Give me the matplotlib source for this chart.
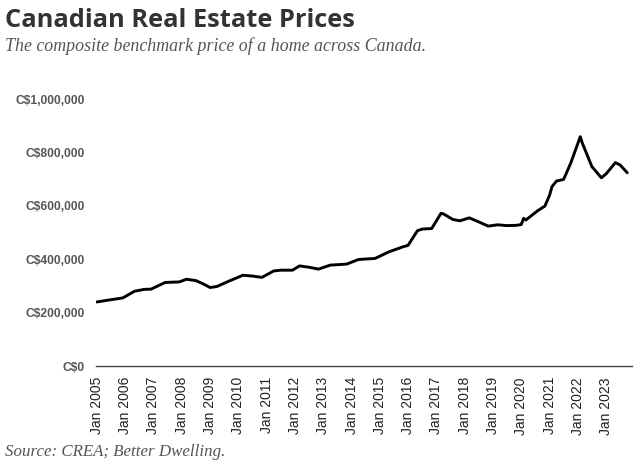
import pandas as pd
import matplotlib
matplotlib.use("Agg")
import matplotlib.pyplot as plt
import matplotlib.dates as mdates
from matplotlib.ticker import FuncFormatter

# benchmark price (C$)
dates = ["2005-01", "2005-06", "2005-12", "2006-05", "2006-09", "2006-12",
         "2007-06", "2007-12", "2008-03", "2008-07", "2008-10", "2009-01",
         "2009-04", "2009-09", "2010-03", "2010-07", "2010-11", "2011-04",
         "2011-07", "2011-12", "2012-03", "2012-07", "2012-11", "2013-04",
         "2013-08", "2013-11", "2014-04", "2014-11", "2015-05", "2015-11",
         "2016-01", "2016-05", "2016-07", "2016-11", "2017-03", "2017-04",
         "2017-08", "2017-11", "2018-03", "2018-07", "2018-11", "2019-03",
         "2019-07", "2019-11", "2020-01", "2020-02", "2020-03", "2020-08",
         "2020-11", "2021-01", "2021-02", "2021-04", "2021-07", "2021-10",
         "2022-02", "2022-03", "2022-07", "2022-11", "2023-01", "2023-05",
         "2023-07", "2023-10"]
prices = [240000, 247000, 255000, 280000, 287000, 288000,
          313000, 315000, 325000, 320000, 308000, 294000,
          298000, 318000, 340000, 337000, 332000, 356000,
          359000, 359000, 375000, 370000, 363000, 378000,
          380000, 382000, 399000, 403000, 428000, 447000,
          452000, 507000, 513000, 515000, 572000, 570000,
          549000, 544000, 555000, 540000, 524000, 529000,
          526000, 527000, 530000, 553000, 547000, 582000,
          599000, 640000, 672000, 693000, 699000, 760000,
          859000, 834000, 747000, 705000, 720000, 762000,
          753000, 724000]
tick_years = list(range(2005, 2024))

title = "Canadian Real Estate Prices"
subtitle = "The composite benchmark price of a home across Canada."
source = "Source: CREA; Better Dwelling."

x = pd.to_datetime(dates)

fig = plt.figure(figsize=(6.4, 4.63), dpi=100)
ax = fig.add_axes([0.15, 0.2095, 0.8375, 0.5765])

ax.plot(x, prices, color="black", lw=2.1, solid_joinstyle="round", solid_capstyle="round")

ax.set_ylim(0, 1000000)
ax.set_xlim(pd.Timestamp("2004-12-20"), pd.Timestamp("2023-12-01"))
ax.set_yticks(range(0, 1000001, 200000))
ax.yaxis.set_major_formatter(FuncFormatter(lambda v, p: "C${:,.0f}".format(v)))
ax.set_xticks([pd.Timestamp(f"{y}-01-01") for y in tick_years])
ax.xaxis.set_major_formatter(mdates.DateFormatter("Jan %Y"))

for s in ["top", "right", "left"]:
    ax.spines[s].set_visible(False)
ax.spines["bottom"].set_color("#444444")
ax.spines["bottom"].set_linewidth(1.0)
ax.tick_params(axis="both", length=0)
ax.tick_params(axis="y", pad=8)
ax.tick_params(axis="x", pad=8)
for lab in ax.get_yticklabels():
    lab.set_fontfamily("Liberation Sans")
    lab.set_fontweight("bold")
    lab.set_fontsize(8.7)
    lab.set_color("#555555")
for lab in ax.get_xticklabels():
    lab.set_fontfamily("Liberation Sans")
    lab.set_fontsize(10)
    lab.set_rotation(90)
    lab.set_color("#222222")

fig.text(5 / 640, 1 - 27 / 463, title, fontfamily="Open Sans", fontweight="bold",
         fontsize=18.3, color="#333333", va="baseline", ha="left")
fig.text(5 / 640, 1 - 51 / 463, subtitle, fontfamily="Liberation Serif", style="italic",
         fontsize=12.9, color="#555555", va="baseline", ha="left")
fig.text(5 / 640, 1 - 456 / 463, source, fontfamily="Liberation Serif", style="italic",
         fontsize=12.2, color="#555555", va="baseline", ha="left")

fig.savefig("out.png", dpi=100)
